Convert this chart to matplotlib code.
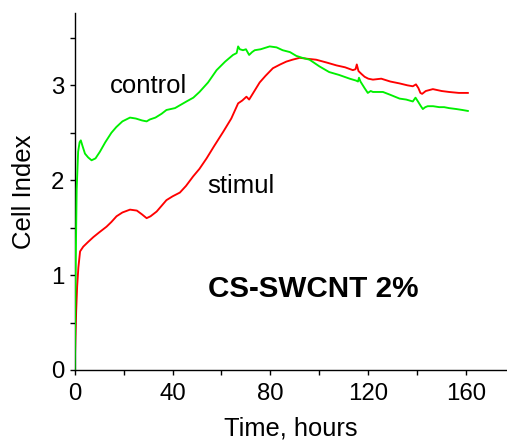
import matplotlib
matplotlib.use("Agg")
import matplotlib.pyplot as plt
from matplotlib.ticker import MultipleLocator

plt.rcParams['font.family'] = ['Liberation Sans', 'DejaVu Sans']

# Cell index time courses (hours, cell index)
control_t = [0, 0.3, 0.8, 1.4, 2.0, 2.5, 3.2, 4.2, 5.5, 6.9, 8.5, 10.3, 12.5, 15.0, 17.0,
             19.5, 22.6, 25.0, 27.5, 29.4, 30.7, 33.0, 35.5, 37.5, 41.0, 45.7, 48.5, 51.0,
             54.5, 58.0, 61.5, 64.7, 66.2, 66.8, 67.5, 68.8, 70.0, 71.3, 72.5, 73.6, 76.0,
             79.7, 82.5, 85.0, 88.0, 90.6, 93.0, 96.0, 100.0, 104.0, 108.0, 112.4, 115.0,
             115.8, 116.2, 116.8, 118.5, 119.8, 121.0, 121.9, 124.0, 126.0, 129.0, 132.8,
             135.5, 138.2, 139.3, 140.3, 141.5, 142.3, 143.3, 144.3, 146.5, 149.0, 151.0,
             153.0, 156.0, 158.5, 160.7]
control_ci = [0.0, 0.9, 1.9, 2.30, 2.40, 2.42, 2.36, 2.28, 2.24, 2.21, 2.23, 2.30, 2.40,
              2.50, 2.56, 2.62, 2.66, 2.65, 2.63, 2.62, 2.64, 2.66, 2.70, 2.74, 2.76, 2.83,
              2.87, 2.93, 3.03, 3.16, 3.25, 3.32, 3.34, 3.41, 3.38, 3.37, 3.38, 3.32, 3.35,
              3.37, 3.38, 3.41, 3.40, 3.37, 3.35, 3.31, 3.29, 3.27, 3.20, 3.14, 3.11, 3.07,
              3.05, 3.04, 3.08, 3.04, 2.97, 2.92, 2.94, 2.93, 2.93, 2.93, 2.90, 2.86, 2.85,
              2.83, 2.87, 2.83, 2.78, 2.75, 2.77, 2.78, 2.78, 2.77, 2.77, 2.76, 2.75, 2.74,
              2.73]

stimul_t = [0, 0.3, 0.6, 1.0, 1.5, 2.2, 3.5, 5.5, 7.6, 10.0, 13.0, 15.0, 17.1, 19.5,
            22.6, 25.4, 27.5, 29.4, 31.0, 33.5, 35.5, 37.5, 40.0, 43.0, 45.5, 48.4, 51.0,
            53.9, 57.0, 60.7, 64.0, 66.8, 68.5, 70.2, 71.3, 72.5, 75.6, 78.0, 81.0, 84.0,
            86.5, 89.0, 92.0, 95.0, 98.7, 103.0, 107.0, 110.5, 113.7, 114.8, 115.3, 116.0,
            117.2, 118.5, 120.0, 121.9, 125.3, 129.0, 132.8, 136.0, 138.2, 139.5, 140.5,
            141.3, 142.0, 143.5, 146.4, 150.0, 153.0, 157.0, 160.7]
stimul_ci = [0.0, 0.35, 0.62, 0.88, 1.08, 1.25, 1.30, 1.35, 1.40, 1.45, 1.51, 1.56, 1.62,
             1.66, 1.69, 1.68, 1.64, 1.60, 1.62, 1.67, 1.73, 1.79, 1.83, 1.87, 1.94, 2.04,
             2.12, 2.23, 2.36, 2.51, 2.65, 2.81, 2.84, 2.88, 2.85, 2.90, 3.03, 3.10, 3.18,
             3.22, 3.25, 3.27, 3.29, 3.28, 3.27, 3.24, 3.21, 3.19, 3.16, 3.17, 3.22, 3.15,
             3.12, 3.09, 3.07, 3.06, 3.07, 3.04, 3.02, 3.00, 2.99, 3.01, 2.97, 2.92, 2.91,
             2.94, 2.96, 2.94, 2.93, 2.92, 2.92]

x_major = [0, 40, 80, 120, 160]
y_major = [0, 1, 2, 3]

W, H = 507, 445
fig = plt.figure(figsize=(W / 100, H / 100), dpi=100)
ax = fig.add_axes([74.7 / W, (H - 370) / H, (W - 74.7) / W, (370 - 13.3) / H])

ax.plot(control_t, control_ci, color='#00f000', lw=1.35, zorder=3)
ax.plot(stimul_t, stimul_ci, color='#ff0000', lw=1.35, zorder=2)

ax.set_xlim(0, 176.7)
ax.set_ylim(0, 3.759)
ax.set_xticks(x_major)
ax.set_yticks(y_major)
ax.xaxis.set_minor_locator(MultipleLocator(20))
ax.yaxis.set_minor_locator(MultipleLocator(0.5))

for side in ('top', 'right'):
    ax.spines[side].set_visible(False)
for side in ('left', 'bottom'):
    ax.spines[side].set_linewidth(1.0)

ax.tick_params(which='both', direction='out', width=1.0, length=3.5,
               labelsize=17.3, colors='black')
ax.tick_params(axis='x', which='both', pad=6)
ax.tick_params(axis='y', which='both', pad=4)

ax.set_xlabel('Time, hours', fontsize=18.4, labelpad=8)
ax.set_ylabel('Cell Index', fontsize=18.5, labelpad=11)

ax.text(14.2, 2.92, 'control', fontsize=18.5, ha='left', va='baseline')
ax.text(54.3, 1.862, 'stimul', fontsize=18.5, ha='left', va='baseline')
ax.text(54.3, 0.772, 'CS-SWCNT 2%', fontsize=21.3, fontweight='bold',
        ha='left', va='baseline')

fig.savefig('out.png', dpi=100)
